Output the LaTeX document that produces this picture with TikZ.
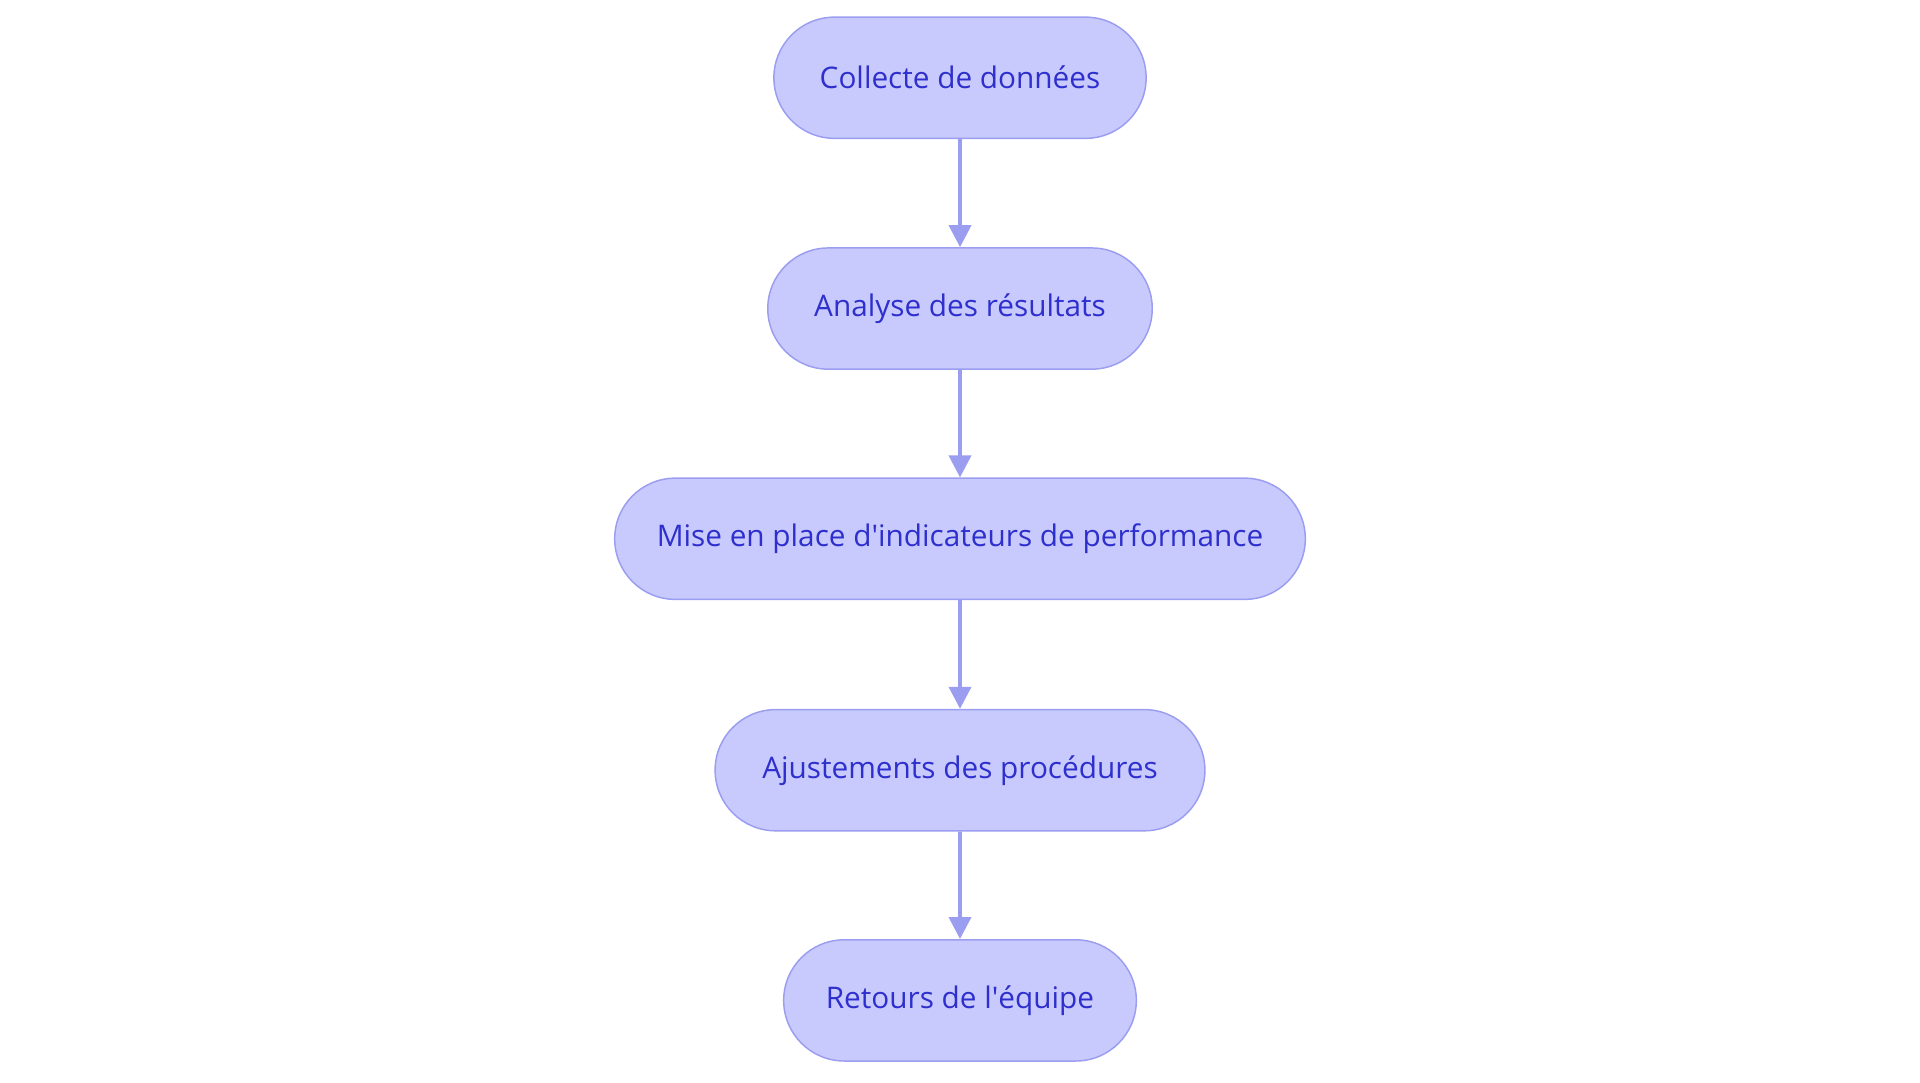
\documentclass[tikz,border=0pt]{standalone}
\usepackage{fontspec}
\setmainfont{Open Sans}
\usetikzlibrary{shapes.misc,arrows.meta}
\definecolor{nfill}{HTML}{C8CAFD}
\definecolor{nline}{HTML}{9A9DF0}
\definecolor{ntext}{HTML}{2E2FCC}
\begin{document}
\begin{tikzpicture}[x=1pt,y=1pt,
  box/.style={rounded rectangle,draw=nline,line width=1.2pt,fill=nfill,text=ntext,
    minimum height=99pt,inner sep=0pt,font=\fontsize{24.3}{29}\selectfont},
  arr/.style={draw=nline,line width=3pt,-{Triangle[length=18pt,width=18pt]}}]
\useasboundingbox (0,0) rectangle (1568,884);
\node[box,minimum width=304pt] (a) at (784,820.5) {Collecte de données};
\node[box,minimum width=314pt] (b) at (784,632) {Analyse des résultats};
\node[box,minimum width=564pt] (c) at (784,444) {Mise en place d\textquotesingle indicateurs de performance};
\node[box,minimum width=400pt] (d) at (784,255) {Ajustements des procédures};
\node[box,minimum width=288pt] (e) at (784,67) {Retours de l\textquotesingle équipe};
\draw[arr] (a) -- (b);
\draw[arr] (b) -- (c);
\draw[arr] (c) -- (d);
\draw[arr] (d) -- (e);
\end{tikzpicture}
\end{document}
